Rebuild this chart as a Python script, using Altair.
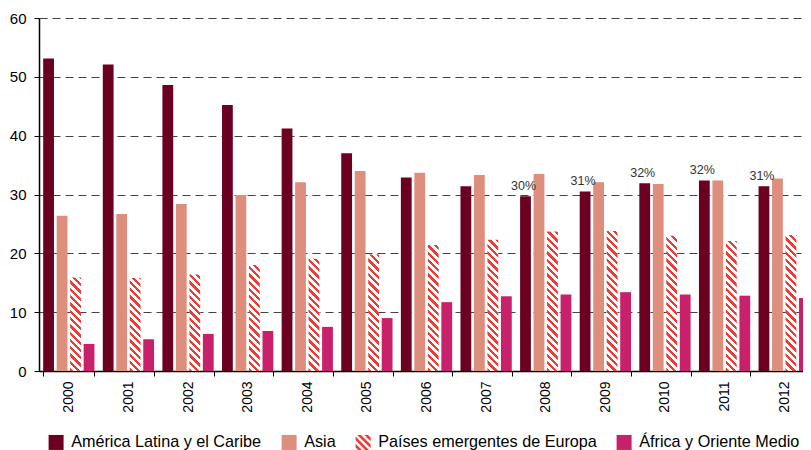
import altair as alt
import pandas as pd

# ---------------- data ----------------
years = [str(y) for y in range(2000, 2013)]
series = [
    "América Latina y el Caribe",
    "Asia",
    "Países emergentes de Europa",
    "África y Oriente Medio",
]
america = [53.1, 52.1, 48.6, 45.2, 41.2, 37.0, 32.9, 31.4, 29.7, 30.5, 31.9, 32.4, 31.4]
asia = [26.4, 26.7, 28.4, 29.9, 32.1, 34.0, 33.7, 33.3, 33.5, 32.1, 31.8, 32.4, 32.7]
europa = [15.9, 15.8, 16.4, 18.0, 19.1, 19.8, 21.4, 22.3, 23.7, 23.8, 23.0, 22.1, 23.1]
africa = [4.6, 5.4, 6.3, 6.8, 7.5, 9.0, 11.7, 12.7, 13.0, 13.4, 13.0, 12.8, 12.4]
share_years = ["2008", "2009", "2010", "2011", "2012"]
share_labels = ["30%", "31%", "32%", "32%", "31%"]

# ---------------- styles ----------------
FONT = "Liberation Sans"
colors = ["#6B0021", "#DE8E7D", "#EF3B36", "#C8206A"]
STRIPE = "#EF3B36"
VIEW_W = 764          # visible plot width (page is 811 wide)
RANGE_W = 775         # x range (the original plot runs past the right edge)
PLOT_H, Y_MAX = 353, 60
PAD_IN, PAD_OUT, OFF_PAD = 0.14, 0.07, 0.2

rows = []
for s, vals in zip(series, [america, asia, europa, africa]):
    for y, v in zip(years, vals):
        rows.append({"year": y, "series": s, "value": v, "label": ""})
df = pd.DataFrame(rows)
for y, lab in zip(share_years, share_labels):
    df.loc[(df["year"] == y) & (df["series"] == series[0]), "label"] = lab

step = RANGE_W / (len(years) - PAD_IN + 2 * PAD_OUT)
bar_w = step * (1 - PAD_IN) / (len(series) - OFF_PAD) * (1 - OFF_PAD)


def hatch(h, w, period=7.3, frac=0.45):
    L = w + h
    c = L / (w * w + h * h)
    stops = []
    d = 0.0
    while d < L - 1e-9:
        a = d / L
        b = min((d + period * frac) / L, 1.0)
        e = min((d + period) / L, 1.0)
        stops += [(a, STRIPE), (b, STRIPE), (b, "#ffffff"), (e, "#ffffff")]
        d += period
    return {
        "gradient": "linear",
        "x1": 0, "y1": 1, "x2": round(c * w, 5), "y2": round(1 - c * h, 5),
        "stops": [{"offset": round(o, 5), "color": col} for o, col in stops],
    }


conditions = [
    {
        "test": f"datum.year === '{y}' && datum.series === '{series[2]}'",
        "value": hatch(v * PLOT_H / Y_MAX, bar_w),
    }
    for y, v in zip(years, europa)
]


def clip(poly, f):
    out = []
    n = len(poly)
    for i in range(n):
        p, q = poly[i], poly[(i + 1) % n]
        fp, fq = f(p), f(q)
        if fp >= 0:
            out.append(p)
        if (fp >= 0) != (fq >= 0):
            t = fp / (fp - fq)
            out.append((p[0] + t * (q[0] - p[0]), p[1] + t * (q[1] - p[1])))
    return out


def stripes_path(centers, sw):
    square = [(-1, -1), (1, -1), (1, 1), (-1, 1)]
    parts = []
    for cc in centers:
        a, b = cc - sw / 2, cc + sw / 2
        poly = clip(square, lambda p, a=a: p[0] - p[1] - a)
        poly = clip(poly, lambda p, b=b: b - (p[0] - p[1]))
        if len(poly) >= 3:
            parts.append("M" + "L".join(f"{x:.3f},{y:.3f}" for x, y in poly) + "Z")
    return "".join(parts)


shapes = ["square", "square", stripes_path([-1.41, -0.47, 0.47, 1.41], 0.5), "square"]

x_enc = alt.X(
    "year:N", sort=years,
    scale=alt.Scale(paddingInner=PAD_IN, paddingOuter=PAD_OUT, range=[0, RANGE_W]),
    axis=alt.Axis(title=None, labelAngle=-90, labelFontSize=14, labelPadding=5,
                  tickBand="extent", tickSize=5, domainWidth=1.5, grid=False),
)
xoff_enc = alt.XOffset("series:N", sort=series,
                       scale=alt.Scale(domain=series, paddingInner=OFF_PAD, paddingOuter=0))
y_enc = alt.Y(
    "value:Q",
    scale=alt.Scale(domain=[0, Y_MAX], nice=False),
    axis=alt.Axis(title=None, values=[0, 10, 20, 30, 40, 50, 60], labelFontSize=15,
                  labelPadding=8, tickSize=5, domainWidth=1.5, grid=True,
                  gridDash=[8, 5], gridColor="#444", gridWidth=1),
)


def legend_def():
    return alt.Legend(title=None, orient="none", legendX=9, legendY=416,
                      direction="horizontal")


bars = alt.Chart(df).mark_bar().encode(
    x=x_enc, xOffset=xoff_enc, y=y_enc,
    fill=alt.Fill("series:N", scale=alt.Scale(domain=series, range=colors),
                  legend=legend_def(), condition=conditions),
)

labels = alt.Chart(df).transform_filter("datum.label != ''").mark_text(
    baseline="alphabetic", dy=-6.5, dx=-2, fontSize=12.5, font=FONT, color="#333333"
).encode(x=x_enc, xOffset=xoff_enc, y=y_enc, text="label:N")

legend_layer = alt.Chart(df).mark_point(filled=True, clip=True, opacity=1).encode(
    x=x_enc, xOffset=xoff_enc, y=alt.Y(datum=-40),
    shape=alt.Shape("series:N", scale=alt.Scale(domain=series, range=shapes),
                    legend=legend_def()),
)

chart = alt.layer(bars, labels, legend_layer).properties(
    width=VIEW_W, height=PLOT_H,
    autosize=alt.AutoSizeParams(type="none"),
    padding={"left": 31, "top": 10, "right": 0, "bottom": 84},
).configure_axis(
    labelFont=FONT, labelColor="#000000", domainColor="#000000", tickColor="#000000",
).configure_view(stroke=None).configure_legend(
    labelFont=FONT, labelFontSize=16.2, labelColor="#000000", symbolSize=225,
    symbolStrokeWidth=0, symbolOpacity=1, labelOffset=7, columnPadding=19,
    labelLimit=400, padding=0,
)

chart.save("out.html", embed_options={"renderer": "svg", "actions": False})
